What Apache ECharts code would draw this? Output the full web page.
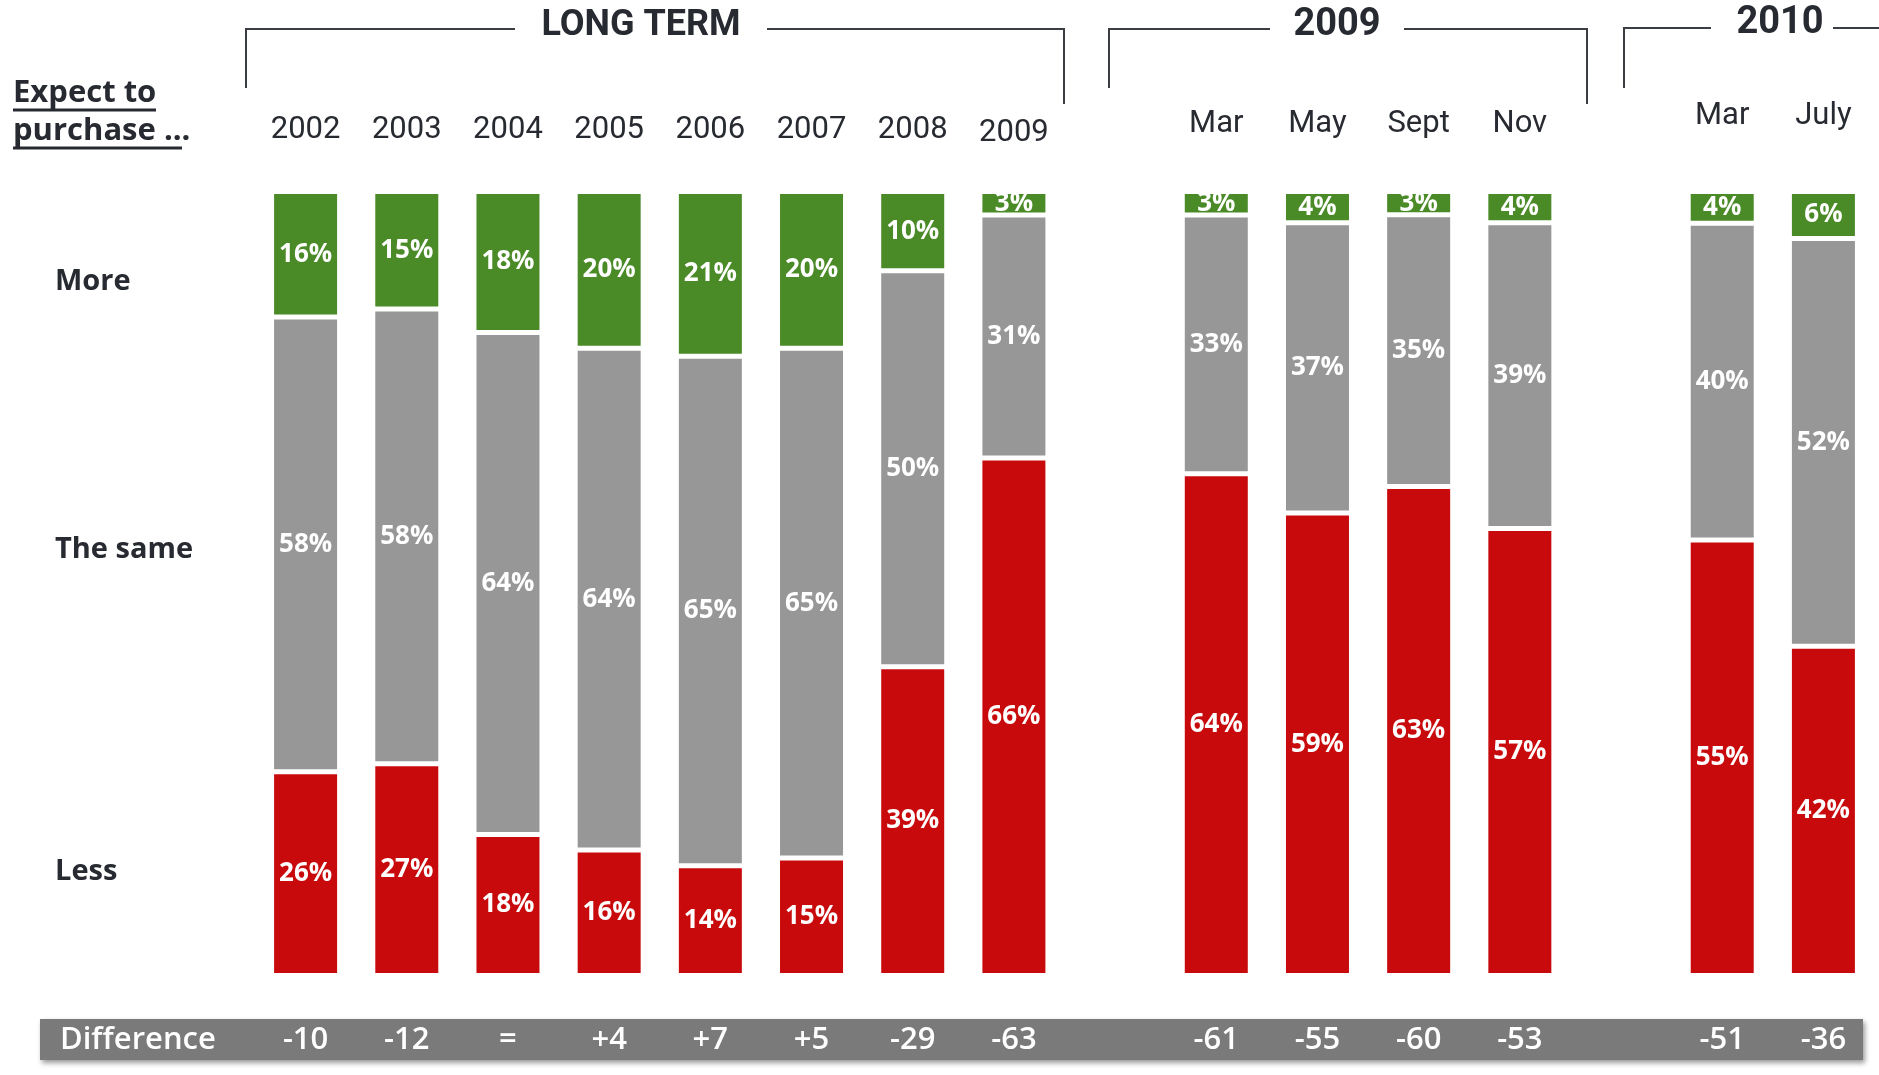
<!DOCTYPE html>
<html><head><meta charset="utf-8">
<script src="https://cdn.jsdelivr.net/npm/echarts@6/dist/echarts.min.js"></script>
<style>html,body{margin:0;padding:0;background:#fff}#c{width:1879px;height:1075px}</style>
</head><body><div id="c"></div>
<script>
// ---- data ----
const categories = ['2002','2003','2004','2005','2006','2007','2008','2009','','Mar','May','Sept','Nov','','Mar','July'];
const labelGroup = ['lt','lt','lt','lt','lt','lt','lt','lt9','','m9','m9','m9','m9','','m10','m10'];
const moreVals = [16,15,18,20,21,20,10,3,null,3,4,3,4,null,4,6];
const sameVals = [58,58,64,64,65,65,50,31,null,33,37,35,39,null,40,52];
const lessVals = [26,27,18,16,14,15,39,66,null,64,59,63,57,null,55,42];
const diffLabels = ['-10','-12','=','+4','+7','+5','-29','-63','','-61','-55','-60','-53','','-51','-36'];
const groupTitles = ['LONG TERM','2009','2010'];
const rowLabels = ['More','The same','Less'];
const headerLines = ['Expect to','purchase ...'];

// ---- helpers ----
const totals = categories.map((_, i) => lessVals[i] == null ? null : lessVals[i] + sameVals[i] + moreVals[i]);
const norm = arr => arr.map((v, i) => v == null ? null : v / totals[i] * 100);

const TICKF = 'Roboto,"Liberation Sans",sans-serif';
const HUMAN = '"Open Sans","Noto Sans",sans-serif';
const DARK = '#272a30';

function barSeries(name, vals, color) {
  return {
    name, type: 'bar', stack: 'total', barWidth: 68, xAxisIndex: 0,
    data: norm(vals),
    itemStyle: { color, borderColor: '#ffffff', borderWidth: 2.5 },
    label: {
      show: true, position: 'inside',
      formatter: p => vals[p.dataIndex] + '%',
      color: '#ffffff', fontFamily: HUMAN, fontWeight: 700, fontSize: 26
    },
    emphasis: { disabled: true }
  };
}

const chart = echarts.init(document.getElementById('c'));
const bracket = pts => ({ type: 'polyline', shape: { points: pts }, style: { stroke: '#3a3d42', lineWidth: 2, fill: null }, silent: true });
const txt = (t, x, y, font, color, align) => ({ type: 'text', silent: true, style: { text: t, x, y, font, fill: color, align: align || 'left', verticalAlign: 'middle' } });

chart.setOption({
  animation: false,
  backgroundColor: '#ffffff',
  grid: { left: 255, right: 5, top: 191.5, bottom: 99.5 },
  xAxis: [
    {
      type: 'category', data: categories, position: 'top', z: 10,
      axisLine: { show: false }, axisTick: { show: false },
      axisLabel: {
        interval: 0, margin: 61, verticalAlign: 'middle',
        formatter: (v, i) => v ? '{' + labelGroup[i] + '|' + v + '}' : '',
        rich: {
          lt: { fontFamily: TICKF, fontSize: 31, color: DARK },
          lt9: { fontFamily: TICKF, fontSize: 31, color: DARK, padding: [6, 0, 0, 0] },
          m9: { fontFamily: TICKF, fontSize: 31, color: DARK, padding: [0, 0, 12, 0] },
          m10: { fontFamily: TICKF, fontSize: 31, color: DARK, padding: [0, 0, 28, 0] }
        }
      }
    },
    {
      type: 'category', data: diffLabels, position: 'bottom', z: 10,
      axisLine: { show: false }, axisTick: { show: false },
      axisLabel: {
        interval: 0, margin: 65, verticalAlign: 'middle',
        color: '#ffffff', fontFamily: HUMAN, fontWeight: 600, fontSize: 31
      }
    }
  ],
  yAxis: { type: 'value', min: 0, max: 100, show: false },
  series: [
    barSeries('Less', lessVals, '#c80a0c'),
    barSeries('The same', sameVals, '#979797'),
    barSeries('More', moreVals, '#4a8a27')
  ],
  graphic: [
    { type: 'rect', z: -1, silent: true, shape: { x: 40, y: 1019, width: 1823, height: 41 },
      style: { fill: '#7a7a7a', shadowBlur: 5, shadowOffsetX: 2, shadowOffsetY: 3, shadowColor: 'rgba(0,0,0,0.4)' } },
    txt('Difference', 60, 1040, '600 31px ' + HUMAN, '#ffffff'),
    bracket([[246, 88], [246, 29], [515, 29]]),
    bracket([[767, 29], [1064, 29], [1064, 104]]),
    bracket([[1109, 88], [1109, 29], [1270, 29]]),
    bracket([[1404, 29], [1587, 29], [1587, 104]]),
    bracket([[1624, 88], [1624, 28], [1711, 28]]),
    bracket([[1833, 28], [1879, 28]]),
    txt(groupTitles[0], 641, 26, 'bold 36px ' + TICKF, DARK, 'center'),
    txt(groupTitles[1], 1337, 25, 'bold 38px ' + TICKF, DARK, 'center'),
    txt(groupTitles[2], 1780, 23, 'bold 38px ' + TICKF, DARK, 'center'),
    txt(headerLines[0], 13, 93, 'bold 31px ' + HUMAN, DARK),
    txt(headerLines[1], 13, 131, 'bold 31px ' + HUMAN, DARK),
    { type: 'line', silent: true, shape: { x1: 13, y1: 110, x2: 156, y2: 110 }, style: { stroke: DARK, lineWidth: 3 } },
    { type: 'line', silent: true, shape: { x1: 13, y1: 148, x2: 182, y2: 148 }, style: { stroke: DARK, lineWidth: 3 } },
    txt(rowLabels[0], 55, 282, 'bold 29px ' + HUMAN, DARK),
    txt(rowLabels[1], 55, 550, 'bold 29px ' + HUMAN, DARK),
    txt(rowLabels[2], 55, 872, 'bold 29px ' + HUMAN, DARK)
  ]
});
</script></body></html>
